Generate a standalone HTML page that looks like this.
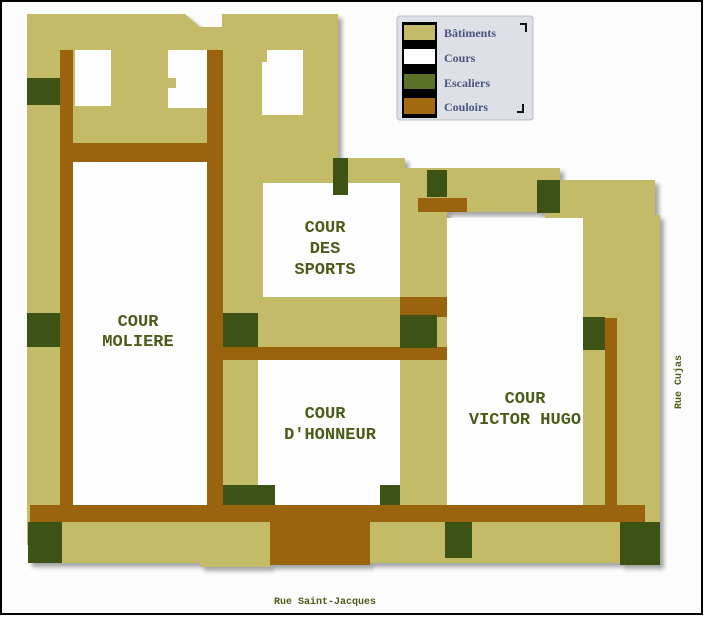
<!DOCTYPE html>
<html><head><meta charset="utf-8"><style>
html,body{margin:0;padding:0;background:#fff;width:707px;height:620px;overflow:hidden}
</style></head><body>
<svg width="707" height="620" xmlns="http://www.w3.org/2000/svg">
<defs><filter id="sh" x="-5%" y="-5%" width="115%" height="115%"><feDropShadow dx="4" dy="4" stdDeviation="2" flood-color="#000" flood-opacity="0.35"/></filter></defs>
<rect x="0" y="0" width="707" height="620" fill="#fff"/>
<rect x="1" y="1" width="701" height="613" fill="#fcfcfc" stroke="#000" stroke-width="2"/>
<g filter="url(#sh)">
<g fill="#c4bb68">
<path d="M27 14 H185 L200 27 H222 V14 H338 V158 H333 V545 H27 Z"/>
<rect x="333" y="158" width="72" height="40"/>
<rect x="400" y="168" width="160" height="44"/>
<rect x="545" y="180" width="110" height="40"/>
<rect x="583" y="215" width="77" height="310"/>
<rect x="400" y="195" width="47" height="320"/>
<rect x="30" y="505" width="630" height="58"/>
<rect x="200" y="540" width="70" height="27"/>
</g>
<g fill="#fdfdfd">
<rect x="75" y="50" width="36" height="56"/>
<path d="M168 50 H207 V108 H168 V88 H176 V78 H168 Z"/>
<path d="M267 50 H303 V115 H262 V62 H267 Z"/>
<rect x="73" y="162" width="134" height="343"/>
<rect x="263" y="183" width="137" height="114"/>
<rect x="258" y="360" width="142" height="145"/>
<rect x="447" y="218" width="136" height="287"/>
</g>
<rect x="288" y="297" width="112" height="18" fill="#c4bb68"/>
<rect x="258" y="312" width="142" height="40" fill="#c4bb68"/>
<g fill="#9a6410">
<rect x="60" y="50" width="13" height="465"/>
<rect x="207" y="50" width="16" height="460"/>
<rect x="60" y="143" width="163" height="19"/>
<rect x="223" y="347" width="224" height="13"/>
<rect x="400" y="297" width="47" height="20"/>
<rect x="418" y="198" width="49" height="14"/>
<rect x="30" y="505" width="615" height="17"/>
<rect x="270" y="505" width="100" height="60"/>
<rect x="605" y="318" width="12" height="195"/>
</g>
<g fill="#3c5213">
<rect x="27" y="78" width="33" height="27"/>
<rect x="27" y="313" width="33" height="34"/>
<rect x="333" y="158" width="15" height="37"/>
<rect x="427" y="170" width="20" height="27"/>
<rect x="537" y="180" width="23" height="33"/>
<rect x="223" y="313" width="35" height="34"/>
<rect x="400" y="315" width="37" height="33"/>
<rect x="583" y="317" width="22" height="33"/>
<rect x="223" y="485" width="52" height="20"/>
<rect x="380" y="485" width="20" height="20"/>
<rect x="28" y="522" width="34" height="41"/>
<rect x="445" y="522" width="27" height="36"/>
<rect x="620" y="522" width="40" height="43"/>
</g>
</g>
<g font-family="'Liberation Mono',monospace" font-weight="bold" font-size="17" fill="#4b5c1a" text-anchor="middle">
<text x="138" y="326">COUR</text><text x="138" y="346">MOLIERE</text>
<text x="325" y="232">COUR</text><text x="325" y="253">DES</text><text x="325" y="274">SPORTS</text>
<text x="325" y="418">COUR</text><text x="330" y="439">D'HONNEUR</text>
<text x="525" y="403">COUR</text><text x="525" y="424">VICTOR HUGO</text>
</g>
<g font-family="'Liberation Mono',monospace" font-weight="bold" font-size="10" fill="#4b5c1a">
<text x="325" y="604" text-anchor="middle">Rue Saint-Jacques</text>
<text x="0" y="0" text-anchor="middle" transform="translate(681 382) rotate(-90)">Rue Cujas</text>
</g>
<rect x="397" y="16" width="136" height="104" rx="3" fill="#dde0e6" stroke="#b8bcc4"/>
<rect x="402" y="22" width="35" height="96" fill="#000"/>
<rect x="404" y="25" width="31" height="15" fill="#c4bb68"/>
<rect x="404" y="49" width="31" height="15" fill="#fff"/>
<rect x="404" y="74" width="31" height="15" fill="#5c7228"/>
<rect x="404" y="98" width="31" height="16" fill="#a36a10"/>
<g font-family="'Liberation Serif',serif" font-weight="bold" font-size="12" fill="#4a5580">
<text x="444" y="37">Bâtiments</text>
<text x="444" y="62">Cours</text>
<text x="444" y="87">Escaliers</text>
<text x="444" y="111">Couloirs</text>
</g>
<path d="M520 24 H526 V32" stroke="#111" stroke-width="2" fill="none"/>
<path d="M517 112 H523 V104" stroke="#111" stroke-width="2" fill="none"/>
</svg>
</body></html>
